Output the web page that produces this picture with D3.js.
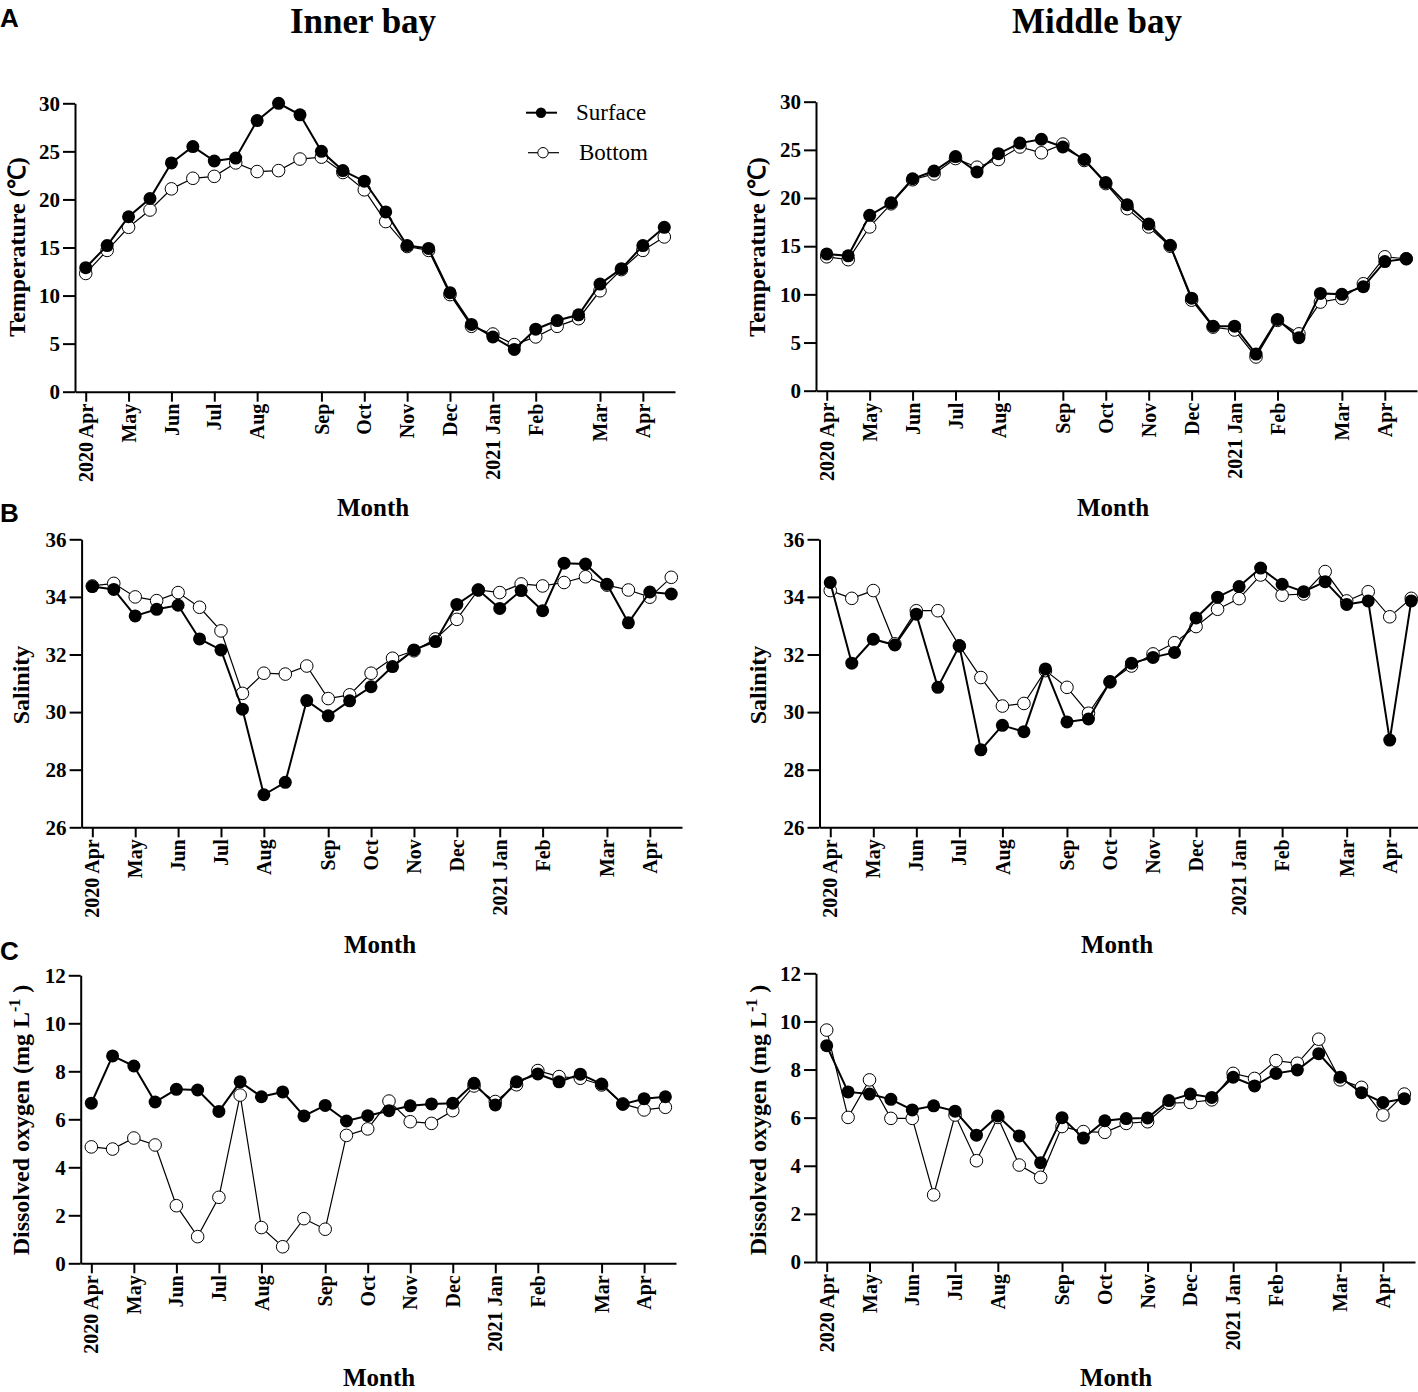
<!doctype html>
<html>
<head>
    <script src="https://d3js.org/d3.v7.min.js"></script>
    <style>
        body { margin: 0; background: #fff; }
        svg text { font-family: "Liberation Serif", "Times New Roman", serif; }
        .axis text { font-weight: bold; font-size: 20px; fill: #000; }
        .yaxis text { font-size: 21px; }
        .axis .domain, .axis line { stroke: #000; stroke-width: 2px; }
        .ttl { font-weight: bold; }
        .letter { font-family: "Liberation Sans", Arial, sans-serif !important; font-weight: bold; font-size: 26px; }
    </style>
</head>
<body>

    <svg width="1418" height="1392"></svg>

    <script>
        // sampling events are evenly spaced: index 0..27
        var samples = d3.range(28);
        var tickIndex = [0, 2, 4, 6, 8, 11, 13, 15, 17, 19, 21, 24, 26];
        var tickLabels = ["2020 Apr", "May", "Jun", "Jul", "Aug", "Sep", "Oct", "Nov", "Dec", "2021 Jan", "Feb", "Mar", "Apr"];

        // temperature (℃)
        var innerTempSurface = [12.9, 15.2, 18.2, 20.1, 23.8, 25.5, 24.0, 24.3, 28.2, 30.0, 28.8, 25.0, 23.0, 21.9, 18.7, 15.2, 14.9, 10.3, 7.0, 5.7, 4.4, 6.5, 7.4, 8.0, 11.2, 12.8, 15.2, 17.1];
        var innerTempBottom  = [12.3, 14.7, 17.1, 18.9, 21.1, 22.2, 22.4, 23.8, 22.9, 23.0, 24.2, 24.4, 22.8, 21.0, 17.7, 15.1, 14.7, 10.1, 6.8, 6.0, 4.9, 5.7, 6.8, 7.6, 10.5, 12.7, 14.7, 16.1];
        var middleTempSurface = [14.2, 14.0, 18.2, 19.5, 22.0, 22.8, 24.3, 22.7, 24.6, 25.7, 26.1, 25.3, 24.0, 21.6, 19.3, 17.3, 15.1, 9.6, 6.7, 6.7, 3.8, 7.4, 5.5, 10.1, 10.0, 10.8, 13.4, 13.7];
        var middleTempBottom  = [13.9, 13.6, 17.0, 19.4, 21.9, 22.5, 24.1, 23.2, 24.0, 25.3, 24.7, 25.6, 23.9, 21.5, 18.9, 17.0, 15.0, 9.4, 6.6, 6.3, 3.5, 7.3, 5.9, 9.2, 9.6, 11.1, 13.9, 13.7];

        // salinity
        var innerSalSurface = [34.36, 34.26, 33.34, 33.57, 33.71, 32.54, 32.16, 30.1, 27.13, 27.56, 30.4, 29.87, 30.39, 30.88, 31.58, 32.16, 32.45, 33.74, 34.24, 33.6, 34.22, 33.52, 35.17, 35.14, 34.44, 33.1, 34.17, 34.1];
        var innerSalBottom  = [34.38, 34.47, 34.0, 33.87, 34.15, 33.64, 32.82, 30.65, 31.35, 31.32, 31.6, 30.47, 30.6, 31.35, 31.87, 32.13, 32.54, 33.22, 34.24, 34.15, 34.45, 34.38, 34.5, 34.7, 34.41, 34.24, 33.99, 34.68];
        var middleSalSurface = [34.5, 31.7, 32.53, 32.33, 33.4, 30.86, 32.3, 28.69, 29.54, 29.32, 31.5, 29.66, 29.76, 31.05, 31.7, 31.9, 32.07, 33.27, 33.99, 34.36, 35.0, 34.44, 34.18, 34.53, 33.74, 33.86, 29.03, 33.86];
        var middleSalBottom  = [34.22, 33.95, 34.22, 32.37, 33.52, 33.52, 32.3, 31.2, 30.21, 30.3, 31.44, 30.86, 29.96, 31.05, 31.6, 32.02, 32.41, 32.97, 33.57, 33.94, 34.76, 34.06, 34.1, 34.88, 33.86, 34.18, 33.31, 33.95];

        // dissolved oxygen (mg L-1)
        var innerDoSurface = [6.67, 8.64, 8.22, 6.72, 7.25, 7.22, 6.33, 7.56, 6.94, 7.14, 6.14, 6.58, 5.93, 6.15, 6.36, 6.56, 6.64, 6.67, 7.5, 6.6, 7.56, 7.89, 7.56, 7.88, 7.47, 6.63, 6.86, 6.94];
        var innerDoBottom  = [4.85, 4.76, 5.22, 4.93, 2.4, 1.11, 2.75, 7.01, 1.49, 0.69, 1.86, 1.42, 5.33, 5.6, 6.76, 5.9, 5.83, 6.36, 7.39, 6.74, 7.44, 8.03, 7.78, 7.71, 7.43, 6.64, 6.39, 6.5];
        var middleDoSurface = [8.99, 7.07, 6.98, 6.76, 6.32, 6.49, 6.27, 5.27, 6.07, 5.24, 4.13, 6.0, 5.15, 5.87, 5.96, 5.99, 6.71, 6.98, 6.84, 7.68, 7.32, 7.84, 7.98, 8.66, 7.68, 7.04, 6.63, 6.79];
        var middleDoBottom  = [9.64, 6.01, 7.57, 5.97, 5.97, 2.79, 6.11, 4.21, 6.01, 4.03, 3.52, 5.63, 5.42, 5.39, 5.76, 5.83, 6.6, 6.63, 6.74, 7.84, 7.63, 8.37, 8.26, 9.26, 7.57, 7.26, 6.11, 6.98];

        var svg = d3.select("svg");

        var panels = [
            {surface: innerTempSurface, bottom: innerTempBottom, yDomain: [0, 30], yTicks: [0, 5, 10, 15, 20, 25, 30], label: "Temperature (℃)",
             xr: [75, 675], yr: [391.7, 103.3], tx: 25, ty: 247, mx: 373, my: 516, legend: true},
            {surface: middleTempSurface, bottom: middleTempBottom, yDomain: [0, 30], yTicks: [0, 5, 10, 15, 20, 25, 30], label: "Temperature (℃)",
             xr: [816, 1417], yr: [390.7, 101.7], tx: 765, ty: 247, mx: 1113, my: 516},
            {surface: innerSalSurface, bottom: innerSalBottom, yDomain: [26, 36], yTicks: [26, 28, 30, 32, 34, 36], label: "Salinity",
             xr: [81.6, 682], yr: [827.3, 539.3], tx: 29, ty: 685, mx: 380, my: 953},
            {surface: middleSalSurface, bottom: middleSalBottom, yDomain: [26, 36], yTicks: [26, 28, 30, 32, 34, 36], label: "Salinity",
             xr: [819.5, 1422], yr: [827.3, 539.3], tx: 766, ty: 685, mx: 1117, my: 953},
            {surface: innerDoSurface, bottom: innerDoBottom, yDomain: [0, 12], yTicks: [0, 2, 4, 6, 8, 10, 12], label: "do",
             xr: [80.7, 676], yr: [1263.3, 975.3], tx: 29, ty: 1120, mx: 379, my: 1386},
            {surface: middleDoSurface, bottom: middleDoBottom, yDomain: [0, 12], yTicks: [0, 2, 4, 6, 8, 10, 12], label: "do",
             xr: [816, 1415], yr: [1262, 973.3], tx: 766, ty: 1120, mx: 1116, my: 1386}
        ];

        // column titles and panel letters
        svg.append("text").attr("class", "ttl").attr("x", 363).attr("y", 33)
            .attr("text-anchor", "middle").attr("font-size", "35px").text("Inner bay");
        svg.append("text").attr("class", "ttl").attr("x", 1097).attr("y", 33)
            .attr("text-anchor", "middle").attr("font-size", "35px").text("Middle bay");
        [["A", 27], ["B", 522], ["C", 960]].forEach(function(l) {
            svg.append("text").attr("class", "letter").attr("x", 0).attr("y", l[1]).text(l[0]);
        });

        panels.forEach(function(p) {
            var x = d3.scaleLinear().domain([-0.5, 27.5]).range(p.xr);
            var y = d3.scaleLinear().domain(p.yDomain).range(p.yr);

            var g = svg.append("g");

            g.append("g")
                .attr("class", "axis")
                .attr("transform", "translate(0," + p.yr[0] + ")")
                .call(d3.axisBottom(x).tickValues(tickIndex)
                    .tickFormat(function(d, i) { return tickLabels[i]; })
                    .tickSize(10).tickSizeOuter(0))
                .call(function(a) {
                    a.attr("font-size", null).attr("font-family", null);
                    a.selectAll("text")
                        .attr("transform", "rotate(-90)")
                        .attr("text-anchor", "end")
                        .attr("x", -12).attr("y", 0).attr("dy", "0.33em");
                });

            g.append("g")
                .attr("class", "axis yaxis")
                .attr("transform", "translate(" + p.xr[0] + ",0)")
                .call(d3.axisLeft(y).tickValues(p.yTicks).tickSize(12).tickPadding(3).tickSizeOuter(0))
                .call(function(a) { a.attr("font-size", null).attr("font-family", null); });

            // y title
            var t = g.append("text").attr("class", "ttl")
                .attr("transform", "translate(" + p.tx + "," + p.ty + ") rotate(-90)")
                .attr("text-anchor", "middle").attr("font-size", "24px");
            if (p.label === "do") {
                t.append("tspan").text("Dissolved oxygen (mg L");
                t.append("tspan").attr("dy", -9).attr("font-size", "16px").text("-1");
                t.append("tspan").attr("dy", 9).text(" )");
            } else {
                t.text(p.label);
            }

            // x title
            g.append("text").attr("class", "ttl").attr("x", p.mx).attr("y", p.my)
                .attr("text-anchor", "middle").attr("font-size", "25px").text("Month");

            var line = d3.line().x(function(d, i) { return x(samples[i]); }).y(function(d) { return y(d); });

            // bottom: thin line, open circles
            g.append("path").datum(p.bottom).attr("d", line)
                .attr("fill", "none").attr("stroke", "#000").attr("stroke-width", 1.2);
            g.selectAll(".bot").data(p.bottom).enter().append("circle")
                .attr("class", "bot")
                .attr("cx", function(d, i) { return x(samples[i]); })
                .attr("cy", function(d) { return y(d); })
                .attr("r", 6.3).attr("fill", "#fff").attr("stroke", "#000").attr("stroke-width", 1);

            // surface: thicker line, filled circles
            g.append("path").datum(p.surface).attr("d", line)
                .attr("fill", "none").attr("stroke", "#000").attr("stroke-width", 2);
            g.selectAll(".sur").data(p.surface).enter().append("circle")
                .attr("class", "sur")
                .attr("cx", function(d, i) { return x(samples[i]); })
                .attr("cy", function(d) { return y(d); })
                .attr("r", 6.5).attr("fill", "#000");

            if (p.legend) {
                var lg = g.append("g");
                lg.append("line").attr("x1", 526).attr("x2", 557).attr("y1", 112.7).attr("y2", 112.7)
                    .attr("stroke", "#000").attr("stroke-width", 2);
                lg.append("circle").attr("cx", 541).attr("cy", 112.7).attr("r", 5.2).attr("fill", "#000");
                lg.append("text").attr("x", 576).attr("y", 120).attr("font-size", "23px").text("Surface");
                lg.append("line").attr("x1", 528).attr("x2", 559).attr("y1", 152.7).attr("y2", 152.7)
                    .attr("stroke", "#000").attr("stroke-width", 1.2);
                lg.append("circle").attr("cx", 543).attr("cy", 152.7).attr("r", 5.2)
                    .attr("fill", "#fff").attr("stroke", "#000").attr("stroke-width", 1);
                lg.append("text").attr("x", 579).attr("y", 160).attr("font-size", "23px").text("Bottom");
            }
        });
    </script>
</body>
</html>
